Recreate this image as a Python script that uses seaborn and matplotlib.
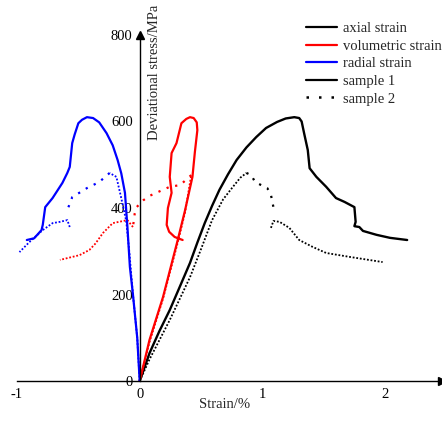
import matplotlib
matplotlib.use('Agg')
import matplotlib.pyplot as plt
from matplotlib.lines import Line2D
import seaborn as sns
import numpy as np

# sample 1 (solid)
axial1_strain = [0, 0.081, 0.16, 0.245, 0.33, 0.41, 0.47, 0.53, 0.59, 0.65, 0.72, 0.79, 0.87, 0.95, 1.03,
                 1.12, 1.19, 1.26, 1.30, 1.32, 1.34, 1.37, 1.385, 1.44, 1.52, 1.6, 1.67, 1.75, 1.76, 1.75,
                 1.79, 1.82, 1.93, 2.04, 2.18]
axial1_stress = [0, 65, 115, 164, 220, 273, 320, 365, 405, 442, 478, 511, 540, 564, 585,
                 599, 607, 610, 608, 600, 573, 534, 492, 472, 449, 423, 414, 402, 368, 358,
                 356, 347, 338, 331, 326]

vol1_strain = [0, 0.08, 0.19, 0.31, 0.37, 0.43, 0.45, 0.47, 0.465, 0.44, 0.41, 0.38, 0.34, 0.30, 0.26,
               0.245, 0.26, 0.23, 0.22, 0.24, 0.285, 0.35]
vol1_stress = [0, 95, 194, 326, 395, 472, 530, 580, 598, 608, 610, 606, 596, 550, 527,
               472, 435, 400, 361, 345, 333, 326]

rad1_strain = [0, -0.02, -0.055, -0.08, -0.1, -0.12, -0.15, -0.18, -0.22, -0.27, -0.33, -0.38, -0.43,
               -0.47, -0.5, -0.53, -0.55, -0.57, -0.59, -0.63, -0.71, -0.77, -0.79, -0.80, -0.86,
               -0.92]
rad1_stress = [0, 100, 200, 264, 356, 435, 480, 511, 545, 573, 598, 608, 610,
               604, 596, 570, 550, 495, 481, 458, 423, 402, 361, 349, 330,
               326]

# sample 2 (dotted): rise, post-peak drop, tail
axial2_rise_strain = [0, 0.08, 0.245, 0.41, 0.5, 0.59, 0.68, 0.76, 0.82, 0.87]
axial2_rise_stress = [0, 50, 141, 240, 305, 372, 420, 449, 470, 481]
axial2_drop_strain = [0.87, 0.91, 0.94, 0.99, 1.04, 1.07, 1.09, 1.1]
axial2_drop_stress = [481, 476, 460, 453, 446, 430, 402, 388]
axial2_tail_strain = [1.07, 1.09, 1.14, 1.22, 1.30, 1.41, 1.52, 1.71, 1.98]
axial2_tail_stress = [354, 370, 368, 354, 326, 310, 296, 287, 275]

vol2_rise_strain = [0, 0.08, 0.19, 0.31, 0.37, 0.42]
vol2_rise_stress = [0, 90, 190, 320, 390, 476]
vol2_drop_strain = [0.42, 0.33, 0.245, 0.15, 0.08, 0.03, -0.025, -0.04, -0.055]
vol2_drop_stress = [476, 453, 449, 437, 428, 418, 402, 388, 356]
vol2_tail_strain = [-0.055, -0.1, -0.22, -0.3, -0.36, -0.41, -0.49, -0.65]
vol2_tail_stress = [356, 372, 365, 342, 318, 303, 291, 280]

rad2_rise_strain = [0, -0.02, -0.055, -0.085, -0.11, -0.14, -0.16, -0.19, -0.245]
rad2_rise_stress = [0, 100, 200, 300, 370, 410, 435, 472, 481]
rad2_drop_strain = [-0.245, -0.33, -0.43, -0.55, -0.59]
rad2_drop_stress = [481, 460, 446, 425, 395]
rad2_tail_strain = [-0.57, -0.59, -0.65, -0.71, -0.79, -0.9, -0.98]
rad2_tail_stress = [356, 372, 368, 365, 349, 321, 298]

x_ticks = [-1, 0, 1, 2]
y_ticks = [0, 200, 400, 600, 800]

sns.set_style('white')
plt.rcParams['font.family'] = ['Liberation Serif', 'DejaVu Serif']
fs = 10.5

fig = plt.figure(figsize=(4.42, 4.25), dpi=100)
ax = fig.add_axes([17 / 442, 44 / 425, 425 / 442, 346 / 425])

dense = (0, (1, 1))
sparse = (0, (1, 3))

curves = [
    (axial1_strain, axial1_stress, 'black', '-', 1.7),
    (axial2_rise_strain, axial2_rise_stress, 'black', dense, 1.3),
    (axial2_drop_strain, axial2_drop_stress, 'black', sparse, 1.6),
    (axial2_tail_strain, axial2_tail_stress, 'black', dense, 1.3),
    (vol1_strain, vol1_stress, 'red', '-', 1.6),
    (vol2_rise_strain, vol2_rise_stress, 'red', dense, 1.3),
    (vol2_drop_strain, vol2_drop_stress, 'red', sparse, 1.6),
    (vol2_tail_strain, vol2_tail_stress, 'red', dense, 1.3),
    (rad1_strain, rad1_stress, 'blue', '-', 1.6),
    (rad2_rise_strain, rad2_rise_stress, 'blue', dense, 1.3),
    (rad2_drop_strain, rad2_drop_stress, 'blue', sparse, 1.6),
    (rad2_tail_strain, rad2_tail_stress, 'blue', dense, 1.3),
]
for xs, ys, c, ls, lw in curves:
    sns.lineplot(x=np.array(xs), y=np.array(ys), sort=False, estimator=None, ax=ax,
                 color=c, linestyle=ls, lw=lw)

ax.set_xlim(-1, 2.464)
ax.set_ylim(0, 800)
ax.spines['left'].set_position(('data', 0))
ax.spines['bottom'].set_position(('data', 0))
ax.spines['top'].set_visible(False)
ax.spines['right'].set_visible(False)
for s in ['left', 'bottom']:
    ax.spines[s].set_color('black')
    ax.spines[s].set_linewidth(1.0)
ax.spines['bottom'].set_bounds(-1, 2.464)
ax.spines['left'].set_bounds(0, 800)

ax.set_xticks(x_ticks)
ax.set_xticklabels([str(v) for v in x_ticks])
ax.set_yticks(y_ticks)
ax.set_yticklabels([str(v) for v in y_ticks])
ax.tick_params(axis='x', direction='in', length=4, width=1, labelsize=fs, pad=5, colors='black')
ax.tick_params(axis='y', direction='out', length=4, width=1, labelsize=fs, pad=1, colors='black')
ax.yaxis.get_major_ticks()[-1].tick1line.set_visible(False)

ax.plot(1, 0, '>k', ms=6, transform=ax.get_yaxis_transform(), clip_on=False)
ax.plot(0, 1, '^k', ms=6, transform=ax.get_xaxis_transform(), clip_on=False)

ax.set_xlabel('')
ax.set_ylabel('')
fig.text(154 / 442, 1 - 140 / 425, 'Deviational stress/MPa', rotation=90,
         ha='center', va='bottom', fontsize=fs)
fig.text(225 / 442, 1 - 405 / 425, 'Strain/%', ha='center', va='center', fontsize=fs)

handles = [
    Line2D([], [], color='black', lw=1.6),
    Line2D([], [], color='red', lw=1.6),
    Line2D([], [], color='blue', lw=1.6),
    Line2D([], [], color='black', lw=1.6),
    Line2D([], [], color='black', lw=1.8, linestyle=(0, (1, 4))),
]
labels = ['axial strain', 'volumetric strain', 'radial strain', 'sample 1', 'sample 2']
fig.legend(handles, labels, loc='upper left', bbox_to_anchor=(306 / 442, 1 - 22 / 425),
           frameon=False, fontsize=fs, handlelength=2.1, handletextpad=0.45,
           labelspacing=0.3, borderpad=0, borderaxespad=0)

fig.savefig('out.png', dpi=100)
